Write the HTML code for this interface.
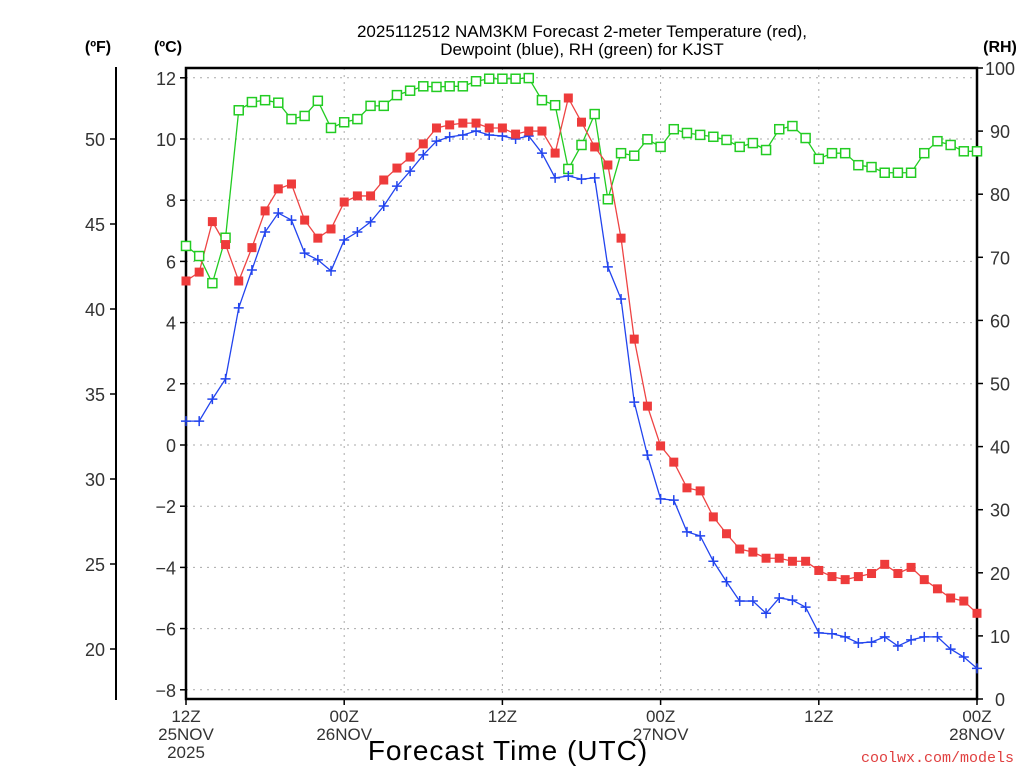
<!DOCTYPE html>
<html><head><meta charset="utf-8"><style>
html,body{margin:0;padding:0;background:#fff;}
svg{display:block;font-family:"Liberation Sans",sans-serif;}
</style></head><body>
<svg id="chart" width="1024" height="768" viewBox="0 0 1024 768" xmlns="http://www.w3.org/2000/svg">
<text x="582" y="37" font-size="17" text-anchor="middle" fill="#000">2025112512 NAM3KM Forecast 2-meter Temperature (red),</text>
<text x="582" y="55" font-size="17" text-anchor="middle" fill="#000">Dewpoint (blue), RH (green) for KJST</text>
<text x="98" y="52" font-size="16" font-weight="bold" text-anchor="middle">(ºF)</text>
<text x="168" y="52" font-size="16" font-weight="bold" text-anchor="middle">(ºC)</text>
<text x="1000" y="52" font-size="16" font-weight="bold" text-anchor="middle">(RH)</text>
<text x="508" y="760" font-size="28" text-anchor="middle" letter-spacing="1">Forecast Time (UTC)</text>
<text x="1014" y="762" font-size="15" text-anchor="end" fill="#e04040" font-family="Liberation Mono, monospace">coolwx.com/models</text>
<g id="grid"></g>
<g id="axes"></g>
<g id="series"></g>
</svg>
<script>
const hours = [];
for (let h = 0; h <= 60; h++) hours.push(h);
const tempC = [5.36,5.65,7.3,6.55,5.36,6.45,7.65,8.37,8.53,7.35,6.76,7.06,7.94,8.14,8.14,8.66,9.05,9.41,9.84,10.36,10.46,10.52,10.52,10.36,10.36,10.16,10.26,10.26,9.54,11.34,10.55,9.74,9.15,6.76,3.46,1.27,-0.03,-0.56,-1.4,-1.5,-2.35,-2.9,-3.4,-3.5,-3.7,-3.7,-3.8,-3.8,-4.1,-4.3,-4.4,-4.3,-4.2,-3.9,-4.2,-4.0,-4.4,-4.7,-5.0,-5.1,-5.5];
const dewC = [0.78,0.78,1.5,2.16,4.48,5.72,6.96,7.58,7.35,6.27,6.05,5.69,6.7,6.96,7.29,7.81,8.46,8.95,9.48,9.93,10.07,10.13,10.26,10.13,10.1,10.0,10.1,9.54,8.73,8.79,8.69,8.73,5.82,4.77,1.4,-0.33,-1.76,-1.8,-2.84,-2.97,-3.8,-4.47,-5.1,-5.1,-5.5,-5.0,-5.07,-5.3,-6.14,-6.17,-6.27,-6.47,-6.44,-6.27,-6.57,-6.37,-6.27,-6.27,-6.67,-6.93,-7.3];
const rhPct = [71.8,70.2,65.9,73.1,93.3,94.6,94.9,94.5,91.9,92.4,94.8,90.5,91.4,91.9,94.0,94.0,95.7,96.4,97.1,97.0,97.1,97.1,97.9,98.3,98.3,98.3,98.4,94.9,94.1,84.0,87.8,92.7,79.2,86.5,86.1,88.7,87.5,90.3,89.7,89.4,89.1,88.6,87.5,88.1,87.0,90.3,90.8,88.9,85.6,86.5,86.5,84.6,84.3,83.4,83.4,83.4,86.5,88.4,87.8,86.8,86.8];
const cTicks = [-8,-6,-4,-2,0,2,4,6,8,10,12];
const fTicks = [20,25,30,35,40,45,50];
const rhTicks = [0,10,20,30,40,50,60,70,80,90,100];
const xTickHours = [0,12,24,36,48,60];
const xTickLabels = [["12Z","25NOV","2025"],["00Z","26NOV"],["12Z"],["00Z","27NOV"],["12Z"],["00Z","28NOV"]];

const L=186,R=977,T=68,B=699;
const xS = h => L + (R-L)*h/60;
const yC = c => 445 - c*30.6;
const yF = f => yC((f-32)*5/9);
const yRH = r => B - (B-T)*r/100;
const NS="http://www.w3.org/2000/svg";
function mk(tag, attrs, parent){const e=document.createElementNS(NS,tag);for(const k in attrs)e.setAttribute(k,attrs[k]);parent.appendChild(e);return e;}
const grid=document.getElementById('grid'), axes=document.getElementById('axes'), ser=document.getElementById('series');

cTicks.forEach(c=>{
  const g=mk('line',{x1:L,x2:R,y1:yC(c),y2:yC(c),stroke:'#aaa','stroke-dasharray':'2,5','stroke-width':1},grid);
  
  
  mk('line',{x1:L-6,x2:L,y1:yC(c),y2:yC(c),stroke:'#000','stroke-width':1.5},axes);
  const t=mk('text',{x:L-10,y:yC(c)+7,'font-size':18,'text-anchor':'end',fill:'#333'},axes);
  t.textContent=c<0?'\u2212'+(-c):String(c);
  
  
});
xTickHours.forEach((h,i)=>{
  if(h>0&&h<60){const g=mk('line',{x1:xS(h),x2:xS(h),y1:T,y2:B,stroke:'#aaa','stroke-dasharray':'2,5','stroke-width':1},grid);
  
  }
  mk('line',{x1:xS(h),x2:xS(h),y1:B,y2:B+6,stroke:'#000','stroke-width':1.5},axes);
  xTickLabels[i].forEach((s,j)=>{
    const t=mk('text',{x:xS(h),y:B+23+j*18,'font-size':17,'text-anchor':'middle',fill:'#333'},axes);
    t.textContent=s;
    
    
  });
});
const fr=mk('rect',{x:L,y:T,width:R-L,height:B-T,fill:'none',stroke:'#000','stroke-width':2.5},axes);


const fl=mk('line',{x1:116,x2:116,y1:67,y2:700,stroke:'#000','stroke-width':2},axes);


fTicks.forEach(f=>{
  mk('line',{x1:110,x2:116,y1:yF(f),y2:yF(f),stroke:'#000','stroke-width':1.5},axes);
  const t=mk('text',{x:105,y:yF(f)+7,'font-size':18,'text-anchor':'end',fill:'#333'},axes);
  t.textContent=f;
  
  
});
rhTicks.forEach(r=>{
  mk('line',{x1:R,x2:R+6,y1:yRH(r),y2:yRH(r),stroke:'#000','stroke-width':1.5},axes);
  const t=mk('text',{x:1000,y:yRH(r)+7,'font-size':18,'text-anchor':'middle',fill:'#333'},axes);
  t.textContent=r;
  
  
});

function line(vals,yf,color,name){
  const p=mk('polyline',{points:vals.map((v,i)=>xS(hours[i])+','+yf(v)).join(' '),fill:'none',stroke:color,'stroke-width':1.3},ser);
  
  
}
line(rhPct,yRH,'#22cc22','rh-line');
line(dewC,yC,'#2244ee','dewpoint-line');
line(tempC,yC,'#ee4444','temperature-line');
rhPct.forEach((v,i)=>{
  const r=mk('rect',{x:xS(hours[i])-4.5,y:yRH(v)-4.5,width:9,height:9,fill:'#fff',stroke:'#22cc22','stroke-width':1.5},ser);
  
  
});
dewC.forEach((v,i)=>{
  const x=xS(hours[i]),y=yC(v);
  const p=mk('path',{d:`M${x-5} ${y}H${x+5}M${x} ${y-5}V${y+5}`,stroke:'#2244ee','stroke-width':1.5},ser);
  
  
});
tempC.forEach((v,i)=>{
  const r=mk('rect',{x:xS(hours[i])-4.5,y:yC(v)-4.5,width:9,height:9,fill:'#ee3b3b'},ser);
  
  
});
</script>
</body></html>
